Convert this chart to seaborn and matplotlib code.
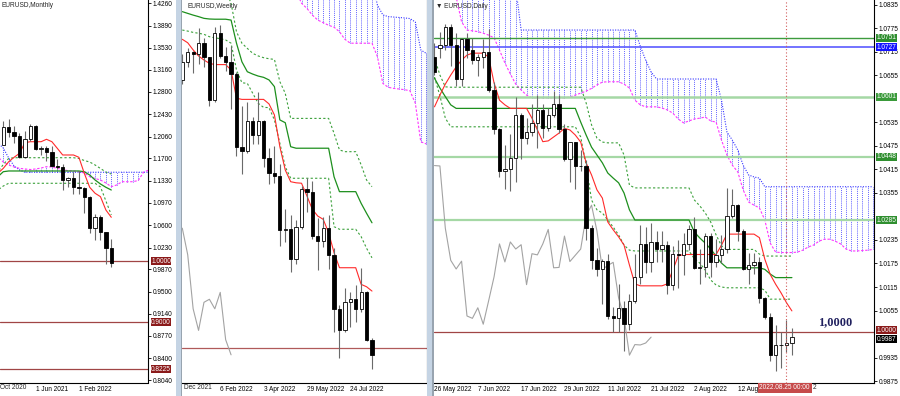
import numpy as np
import matplotlib
matplotlib.use('Agg')
import matplotlib.pyplot as plt
from matplotlib.patches import Rectangle
import seaborn as sns

sns.set_theme(style='white')
plt.rcParams['font.family'] = ['Liberation Sans', 'DejaVu Sans']

# ================= DATA =================
# ---- Monthly (index 0 = Dec 2020) ----
m_open  = [1.1927,1.2216,1.2136,1.2074,1.1728,1.2020,1.2228,1.1858,1.1870,1.1809,1.1579,1.1558,1.1338,1.1370,1.1235,1.1219,1.1067,1.0545,1.0733,1.0484,1.0225]
m_high  = [1.2310,1.2349,1.2243,1.2113,1.2150,1.2266,1.2254,1.1909,1.1900,1.1909,1.1692,1.1616,1.1386,1.1483,1.1495,1.1233,1.1076,1.0787,1.0774,1.0486,1.0368]
m_low   = [1.1925,1.2054,1.1952,1.1704,1.1704,1.1986,1.1845,1.1752,1.1664,1.1563,1.1524,1.1186,1.1222,1.1121,1.1107,1.0806,1.0471,1.0349,1.0359,0.9952,0.9901]
m_close = [1.2216,1.2136,1.2074,1.1728,1.2020,1.2228,1.1858,1.1870,1.1809,1.1579,1.1558,1.1338,1.1370,1.1235,1.1219,1.1067,1.0545,1.0733,1.0484,1.0225,0.9967]
m_line_start = -1
m_tenkan = [1.1455,1.1537,1.1646,1.1719,1.1785,1.1960,1.1976,1.1976,1.1976,1.2016,1.1976,1.1867,1.1757,1.1757,1.1757,1.1719,1.1455,1.1224,1.1125,1.1069,1.0849,1.0729]
m_kijun  = [1.1399,1.1481] + [1.1493]*14 + [1.1481,1.1427,1.1344,1.1278,1.1224,1.1179]
m_dash_up = [1.1480,1.1600,1.1700] + [1.1712]*12 + [1.1699,1.1666,1.1641,1.1592,1.1534,1.1476,1.1443]
m_dash_lo = [1.1179,1.1245] + [1.1290]*17 + [1.1229,1.0999,1.0769]
m_cloud_start = -1
m_span_a = [1.1955,1.1872,1.1707,1.1575,1.1510] + [1.1472]*24
m_span_b = [1.1724,1.1641,1.1592,1.1559,1.1537,1.1526,1.1517,1.1526,1.1542,1.1564,1.1559,1.1537,1.1517,1.1498,1.1493,
            1.1481,1.1460,1.1399,1.1369,1.1344,1.1295,1.1234,1.1262,1.1316,1.1316,1.1316,1.1336,1.1476,1.1509]
m_levels = [1.0000, 0.9000, 0.8225]
m_level_labels = ['1.0000', '0.9000', '0.8225']
m_yticks = [1.4260,1.3890,1.3530,1.3160,1.2800,1.2430,1.2060,1.1700,1.1330,1.0970,1.0600,1.0230,0.9870,0.9500,0.9140,0.8770,0.8400,0.8040]
m_xtick_pos = [6, 14]
m_xtick_labels = ['1 Jun 2021', '1 Feb 2022']
m_cut_label = 'Oct 2020'          # visible remainder of "1 Oct 2020" (tick left of the view)
m_cut_label_pos = -0.6

# ---- Weekly (index 0 = 19 Dec 2021) ----
w_open  = [1.1238,1.1322,1.1370,1.1359,1.1412,1.1344,1.1145,1.1456,1.1349,1.1323,1.1269,1.0929,1.0912,1.1051,1.0984,1.1049,1.0877,1.0808,
           1.0795,1.0545,1.0552,1.0412,1.0561,1.0733,1.0720,1.0518,1.0496,1.0554,1.0431,1.0181,1.0081,1.0211,1.0225,1.0181,1.0257,1.0038]
w_high  = [1.1360,1.1386,1.1376,1.1482,1.1434,1.1348,1.1483,1.1495,1.1391,1.1395,1.1275,1.1121,1.1137,1.1070,1.1185,1.1054,1.0926,1.0936,
           1.0850,1.0642,1.0613,1.0590,1.0749,1.0787,1.0774,1.0601,1.0606,1.0615,1.0464,1.0199,1.0278,1.0259,1.0293,1.0368,1.0262,1.0048]
w_low   = [1.1222,1.1300,1.1272,1.1314,1.1300,1.1121,1.1140,1.1341,1.1280,1.1106,1.0886,1.0806,1.0900,1.0945,1.0945,1.0837,1.0757,1.0761,
           1.0471,1.0492,1.0349,1.0389,1.0549,1.0627,1.0506,1.0359,1.0469,1.0366,1.0072,0.9952,1.0074,1.0096,1.0122,1.0167,1.0033,0.9901]
w_close = [1.1322,1.1370,1.1359,1.1412,1.1344,1.1145,1.1456,1.1349,1.1323,1.1269,1.0929,1.0912,1.1051,1.0984,1.1049,1.0877,1.0808,1.0795,
           1.0545,1.0552,1.0412,1.0561,1.0733,1.0720,1.0518,1.0496,1.0554,1.0431,1.0181,1.0081,1.0211,1.0225,1.0181,1.0257,1.0038,0.9968]
w_tenkan = [1.1428,1.1412,1.1379,1.1351,1.1332,1.1317,1.1311,1.1311,1.1311,1.1286,1.1155] + [1.1150]*5 + \
           [1.1129,1.1078,1.0931,1.0823,1.0769,1.0764,1.0762,1.0703,1.0641,1.0610,1.0595,1.0533,1.0441] + [1.0371]*4 + [1.0294,1.0283,1.0263]
w_kijun  = [1.1556,1.1548,1.1540,1.1533,1.1525,1.1522,1.1521,1.1521,1.1521,1.1517,1.1410,1.1324,1.1278,1.1267,1.1258,1.1252,1.1240,1.1209,
            1.1055,1.1042,1.0931] + [1.0924]*7 + [1.0792] + [1.0723]*4 + [1.0669,1.0623,1.0579]
w_dash_up_start = 8
w_dash_up = [1.1656,1.1595,1.1463,1.1410,1.1386,1.1363,1.1351,1.1343,1.1338,1.1335,1.1232,1.1178] + [1.1062]*8 + \
            [1.0993,1.0916] + [1.0908]*3 + [1.0847,1.0777,1.0746]
w_dash_lo = [1.1471,1.1466,1.1460,1.1456,1.1451,1.1440,1.1435,1.1431,1.1425,1.1410,1.1286,1.1227,1.1224,1.1178,1.1132,1.1113,1.1112,
             1.1055,1.0947,1.0838] + [1.0785]*8 + [1.0561] + [1.0549]*4 + [1.0515,1.0461,1.0417]
w_cloud_start = 21
w_span_a = [1.1702]*15 + [1.1587,1.1541,1.1533,1.1531,1.1529,1.1527,1.1524,1.1508,1.1379,1.1363]
w_span_b = [1.1650,1.1595,1.1571,1.1540,1.1517,1.1505,1.1493,1.1484,1.1463,1.1428] + [1.1410]*5 + \
           [1.1348,1.1224,1.1206,1.1201,1.1198,1.1195,1.1190,1.1132,1.0954,1.0944]
w_level = 1.0000
w_xtick_pos = [7, 15, 23, 31]
w_xtick_labels = ['6 Feb 2022', '3 Apr 2022', '29 May 2022', '24 Jul 2022']
w_cut_label = 'Dec 2021'          # visible remainder of "12 Dec 2021"
w_cut_label_pos = 0.3
chikou_shift = 26

# ---- Daily (index 0 = 26 May 2022) ----
d_open  = [1.0703,1.0725,1.0733,1.0778,1.0733,1.0647,1.0749,1.0720,1.0695,1.0702,1.0716,1.0617,1.0518,1.0410,1.0415,1.0445,1.0553,
           1.0496,1.0511,1.0534,1.0567,1.0521,1.0554,1.0583,1.0518,1.0442,1.0484,1.0425,1.0424,1.0265,1.0183,1.0161,1.0181,1.0041,
           1.0035,1.0062,1.0020,1.0080,1.0141,1.0225,1.0179,1.0230,1.0212,1.0223,1.0121,1.0200,1.0197,1.0225,1.0262,1.0164,1.0165,
           1.0245,1.0180,1.0196,1.0212,1.0297,1.0324,1.0258,1.0160,1.0170,1.0178,1.0087,1.0038,0.9941,0.9968,0.9967,0.9972]
d_high  = [1.0737,1.0765,1.0787,1.0786,1.0764,1.0750,1.0764,1.0750,1.0709,1.0748,1.0774,1.0638,1.0520,1.0477,1.0506,1.0601,1.0560,
           1.0546,1.0583,1.0606,1.0581,1.0571,1.0615,1.0606,1.0532,1.0486,1.0486,1.0464,1.0438,1.0274,1.0215,1.0186,1.0199,1.0065,
           1.0122,1.0078,1.0096,1.0200,1.0273,1.0269,1.0278,1.0258,1.0259,1.0233,1.0219,1.0234,1.0254,1.0274,1.0293,1.0213,1.0254,
           1.0252,1.0238,1.0248,1.0368,1.0365,1.0328,1.0262,1.0201,1.0202,1.0192,1.0090,1.0048,1.0018,0.9999,1.0032,1.0011]
d_low   = [1.0655,1.0700,1.0720,1.0679,1.0627,1.0627,1.0700,1.0685,1.0653,1.0675,1.0613,1.0506,1.0397,1.0364,1.0359,1.0382,1.0442,
           1.0480,1.0501,1.0469,1.0495,1.0512,1.0548,1.0507,1.0437,1.0382,1.0366,1.0410,1.0236,1.0162,1.0144,1.0072,1.0033,0.9999,
           0.9999,0.9952,1.0006,1.0074,1.0123,1.0152,1.0153,1.0180,1.0180,1.0096,1.0108,1.0113,1.0145,1.0209,1.0162,1.0122,1.0141,
           1.0141,1.0167,1.0177,1.0203,1.0290,1.0233,1.0159,1.0123,1.0149,1.0073,1.0033,0.9926,0.9901,0.9909,0.9950,0.9942]
d_close = [1.0665,1.0733,1.0778,1.0733,1.0647,1.0749,1.0720,1.0695,1.0702,1.0716,1.0617,1.0518,1.0410,1.0415,1.0445,1.0553,1.0496,
           1.0511,1.0534,1.0567,1.0521,1.0554,1.0583,1.0518,1.0442,1.0484,1.0425,1.0424,1.0265,1.0183,1.0161,1.0181,1.0041,1.0035,
           1.0062,1.0020,1.0080,1.0141,1.0225,1.0179,1.0230,1.0212,1.0223,1.0121,1.0200,1.0197,1.0225,1.0262,1.0164,1.0165,1.0245,
           1.0180,1.0196,1.0212,1.0297,1.0324,1.0258,1.0160,1.0170,1.0178,1.0087,1.0038,0.9941,0.9968,0.9967,0.9972,0.9987]
d_tenkan = [1.0575,1.0605,1.0633,1.0656,1.0677,1.0694,1.0707,1.0712,1.0712,1.0712,1.0702,1.0636,1.0592,1.0580] + [1.0571]*4 + \
           [1.0546,1.0516,1.0486,1.0488,1.0498,1.0508,1.0520,1.0516,1.0503,1.0485,1.0432,1.0401,1.0363,1.0342,1.0281,1.0261,1.0243,
            1.0222,1.0171,1.0123] + [1.0118]*5 + [1.0123,1.0158,1.0194] + [1.0198]*7 + [1.0222] + [1.0250]*6 + \
           [1.0241,1.0186,1.0147,1.0122,1.0100,1.0075,1.0054]
d_kijun  = [1.0648,1.0623,1.0601,1.0580] + [1.0571]*23 + [1.0536,1.0503,1.0472,1.0452,1.0432,1.0406,1.0393,1.0381,1.0355,1.0312] + \
           [1.0286]*11 + [1.0255,1.0240,1.0227,1.0212,1.0194,1.0176] + [1.0164]*7 + [1.0160,1.0148] + [1.0139]*4
d_dash_up = [1.0700,1.0656,1.0626] + [1.0625]*25 + [1.0585,1.0529,1.0495,1.0485] + [1.0483]*3 + [1.0452,1.0375] + [1.0368]*11 + \
            [1.0337,1.0322,1.0304,1.0281,1.0248,1.0220] + [1.0211]*6 + [1.0199] + [1.0194]*6
d_dash_lo = [1.0651,1.0603,1.0546] + [1.0524]*24 + [1.0498,1.0426,1.0337,1.0312,1.0304,1.0286,1.0268,1.0248,1.0222,1.0209] + \
            [1.0207]*11 + [1.0187,1.0176,1.0158,1.0133,1.0120,1.0115] + [1.0113]*7 + [1.0107,1.0084] + [1.0084]*4
d_cloud_start = 4
d_span_a = [1.0880]*12 + [1.0771]*22 + [1.0730,1.0694,1.0664] + [1.0646]*12 + \
           [1.0592,1.0511,1.0490,1.0465,1.0426,1.0401,1.0396,1.0393] + [1.0371]*21
d_span_b = [1.0855,1.0792,1.0771,1.0769,1.0767,1.0763,1.0758,1.0751,1.0720,1.0687,1.0659,1.0633,1.0618,1.0605] + [1.0598]*7 + \
           [1.0600,1.0605,1.0610,1.0615,1.0622,1.0631,1.0638] + [1.0639]*3 + [1.0633,1.0623,1.0592,1.0580] + [1.0575]*3 + \
           [1.0572,1.0567,1.0559,1.0544,1.0534,1.0539,1.0544,1.0546,1.0549,1.0539,1.0536,1.0490,1.0452,1.0426,1.0409,1.0363,
            1.0332,1.0324,1.0317,1.0286,1.0227,1.0204] + [1.0203]*3 + \
           [1.0204,1.0209,1.0217,1.0222,1.0232,1.0237,1.0237,1.0232,1.0225,1.0212,1.0207,1.0207,1.0208,1.0209,1.0211]
d_levels = [1.0751, 1.0727, 1.0601, 1.0448, 1.0285, 1.0000]
d_level_labels = ['1.0751', '1.0727', '1.0601', '1.0448', '1.0285', '1.0000']
d_level_colors = ['#3d9b3d', '#5b5bff', '#a5d8a5', '#a5d8a5', '#a5d8a5', '#a04545']
d_level_widths = [1.0, 1.2, 1.8, 1.6, 1.6, 0.9]
d_box_colors = ['#2f8f2f', '#1414ff', '#3a9a3a', '#2f8f2f', '#2f8f2f', '#8b1a1a']
d_bid = 0.9987
# tick values whose labels are not hidden behind the level boxes
d_yticks = [1.0835,1.0775,1.0715,1.0655,1.0535,1.0475,1.0415,1.0355,1.0235,1.0175,1.0115,1.0055,0.9935,0.9875]
# visible parts of the date labels (the last two are partly covered by the cursor's date box)
d_xtick_pos = [0, 8, 16, 24, 32, 40, 48, 56]
d_xtick_labels = ['26 May 2022', '7 Jun 2022', '17 Jun 2022', '29 Jun 2022', '11 Jul 2022', '21 Jul 2022',
                  '2 Aug 2022', '12 Aug']
d_tail_label = '2'                # last character of "24 Aug 2022" peeking out right of the cursor box
d_tail_label_pos = 69.9
d_cursor_idx = 65
d_cursor_label = '2022.08.25 00:00'
d_note = '1,0000'
d_note_pos = (70.8, 1.0024)

# ================= STYLE =================
FS = 4.7
RED = '#ff2a2a'
GREEN = '#1d8f1d'
DGREEN = '#3aa03a'
GREY = '#a3a3a3'
BLUE = '#3535ff'
MAG = '#ff35ff'
WICK = '#6a6a6a'

fig = plt.figure(figsize=(9, 3.96), dpi=100)
fig.patch.set_facecolor('white')


def px_axes(x0, x1, y0, y1):
    return fig.add_axes([x0 / 900, 1 - y1 / 396, (x1 - x0) / 900, (y1 - y0) / 396])


def candles(ax, o, h, l, c, start=0, width=0.6):
    o, h, l, c = map(np.asarray, (o, h, l, c))
    x = np.arange(start, start + len(o))
    ax.vlines(x, l, h, color=WICK, lw=0.8, zorder=4)
    up = c >= o
    ax.bar(x[up], (c - o)[up], bottom=o[up], width=width, color='white', edgecolor='black', lw=0.6, zorder=5)
    ax.bar(x[~up], (o - c)[~up], bottom=c[~up], width=width, color='black', edgecolor='black', lw=0.6, zorder=5)


def line(ax, vals, start, color, lw=0.8, ls='-', z=3):
    vals = np.asarray(vals, dtype=float)
    x = np.arange(start, start + len(vals))
    sns.lineplot(x=x, y=vals, ax=ax, color=color, lw=lw, linestyle=ls, zorder=z,
                 sort=False, estimator=None, errorbar=None)


def cloud(ax, a, b, start):
    a = np.asarray(a); b = np.asarray(b)
    x = np.arange(start, start + len(a))
    ax.vlines(x, np.minimum(a, b), np.maximum(a, b), colors=BLUE, linestyles=(0, (1, 1.3)), lw=0.6, zorder=1)
    line(ax, a, start, BLUE, lw=0.8, ls=(0, (1, 1.3)), z=2)
    line(ax, b, start, MAG, lw=0.8, ls=(0, (2.2, 1.5)), z=2)


def box(ax, value, text, fc, z=20, dy=0.0):
    ax.annotate(text, xy=(1, value), xycoords=ax.get_yaxis_transform(), xytext=(2.2, dy),
                textcoords='offset points', va='center', ha='left', fontsize=FS, color='white',
                bbox=dict(boxstyle='square,pad=0.08', fc=fc, ec='none'), annotation_clip=False, zorder=z)


def style(ax):
    ax.set_facecolor('white')
    for s in ['top', 'left']:
        ax.spines[s].set_visible(False)
    for s in ['right', 'bottom']:
        ax.spines[s].set_color('black')
        ax.spines[s].set_linewidth(0.8)
    ax.yaxis.tick_right()
    ax.tick_params(axis='y', direction='out', length=2, width=0.6, pad=1.6, labelsize=FS, colors='black')
    ax.tick_params(axis='x', direction='out', length=2, width=0.6, pad=0.6, labelsize=FS, colors='black')
    ax.grid(False)
    ax.set_xlabel('')
    ax.set_ylabel('')


# ---------- Monthly ----------
ax_m = px_axes(0, 148, 0, 382.5)
cloud(ax_m, m_span_a, m_span_b, m_cloud_start)
line(ax_m, m_dash_up, m_line_start, DGREEN, lw=0.8, ls=(0, (2, 2)))
line(ax_m, m_dash_lo, m_line_start, DGREEN, lw=0.8, ls=(0, (2, 2)))
line(ax_m, m_kijun, m_line_start, GREEN, lw=0.9)
line(ax_m, m_tenkan, m_line_start, RED, lw=0.8)
candles(ax_m, m_open, m_high, m_low, m_close)
for v in m_levels:
    ax_m.axhline(v, color='#a04545', lw=0.9, zorder=2)
ax_m.set_xlim(-0.611, 26.8)
ax_m.set_ylim(0.80026, 1.43145)
style(ax_m)
ax_m.set_yticks(m_yticks, labels=[f'{v:.4f}' for v in m_yticks])
ax_m.set_xticks(m_xtick_pos, labels=m_xtick_labels, ha='left')
ax_m.text(m_cut_label_pos, -0.005, m_cut_label, transform=ax_m.get_xaxis_transform(), ha='left', va='top',
          fontsize=FS, clip_on=False)
for v, t in zip(m_levels, m_level_labels):
    box(ax_m, v, t, '#8b1a1a')

# ---------- Weekly ----------
ax_w = px_axes(182, 426.5, 0, 382.5)
cloud(ax_w, w_span_a, w_span_b, w_cloud_start)
line(ax_w, w_dash_up, w_dash_up_start, DGREEN, lw=0.8, ls=(0, (2, 2)))
line(ax_w, w_dash_lo, 0, DGREEN, lw=0.8, ls=(0, (2, 2)))
line(ax_w, w_kijun, 0, GREEN, lw=0.9)
line(ax_w, w_tenkan, 0, RED, lw=0.8)
line(ax_w, w_close[chikou_shift:], 0, GREY, lw=0.8)
candles(ax_w, w_open, w_high, w_low, w_close)
ax_w.axhline(w_level, color='#b05a5a', lw=0.9, zorder=2)
ax_w.set_xlim(-0.055, 45.06)
ax_w.set_ylim(0.98399, 1.16099)
style(ax_w)
ax_w.set_yticks([])
ax_w.set_xticks(w_xtick_pos, labels=w_xtick_labels, ha='left')
ax_w.text(w_cut_label_pos, -0.005, w_cut_label, transform=ax_w.get_xaxis_transform(), ha='left', va='top',
          fontsize=FS, clip_on=False)

# ---------- Daily ----------
ax_d = px_axes(434, 873.5, 0, 382.5)
cloud(ax_d, d_span_a, d_span_b, d_cloud_start)
for v, c, w in zip(d_levels, d_level_colors, d_level_widths):
    ax_d.axhline(v, color=c, lw=w, zorder=2)
line(ax_d, d_dash_up, 0, DGREEN, lw=0.8, ls=(0, (2, 2)))
line(ax_d, d_dash_lo, 0, DGREEN, lw=0.8, ls=(0, (2, 2)))
line(ax_d, d_kijun, 0, GREEN, lw=0.9)
line(ax_d, d_tenkan, 0, RED, lw=0.8)
line(ax_d, d_close[chikou_shift:], 0, GREY, lw=0.8)
candles(ax_d, d_open, d_high, d_low, d_close)
ax_d.axvline(d_cursor_idx, color='#d05a5a', lw=0.8, linestyle=(0, (1, 2)), zorder=6)
ax_d.text(d_note_pos[0], d_note_pos[1], d_note, fontfamily='Liberation Serif', fontweight='bold', fontsize=8.8,
          color='#20205e', ha='left', va='center', zorder=7)
ax_d.set_xlim(-0.092, 81.07)
ax_d.set_ylim(0.98712, 1.08477)
style(ax_d)
ax_d.set_yticks(d_yticks, labels=[f'{v:.4f}' for v in d_yticks])
ax_d.set_xticks(d_xtick_pos + [64], labels=d_xtick_labels + [''], ha='left')
ax_d.text(d_tail_label_pos, -0.005, d_tail_label, transform=ax_d.get_xaxis_transform(), ha='left', va='top',
          fontsize=FS, clip_on=False)
for v, t, c in zip(d_levels, d_level_labels, d_box_colors):
    box(ax_d, v, t, c, dy=(1.2 if v == 1.0 else 0.0))
box(ax_d, d_bid, f'{d_bid:.4f}', '#000000', z=19, dy=-1.6)
ax_d.annotate(d_cursor_label, xy=(d_cursor_idx, 0), xycoords=ax_d.get_xaxis_transform(), xytext=(-1.3, -3.9),
              textcoords='offset points', ha='center', va='center', fontsize=FS, color='white',
              bbox=dict(boxstyle='square,pad=0.25', fc='#c64a4a', ec='none'), annotation_clip=False, zorder=20)

# ---------- titles & window frames ----------
fig.text(1 / 900, 1 - 5.5 / 396, 'EURUSD,Monthly', fontsize=FS, ha='left', va='center')
fig.text(187.5 / 900, 1 - 6 / 396, 'EURUSD,Weekly', fontsize=FS, ha='left', va='center')
fig.text(436 / 900, 1 - 6.5 / 396, '\u25bc EURUSD,Daily', fontsize=FS, ha='left', va='center')

for x0, w in [(176, 6), (427, 6.5)]:
    fig.add_artist(Rectangle((x0 / 900, 0), w / 900, 1, transform=fig.transFigure, fc='#c5d4e4', ec='none', zorder=5))
    fig.add_artist(Rectangle(((x0 + w - 1.2) / 900, 0), 1.2 / 900, 1, transform=fig.transFigure, fc='#98a4b0',
                             ec='none', zorder=5))

fig.savefig('out.png', dpi=100)
